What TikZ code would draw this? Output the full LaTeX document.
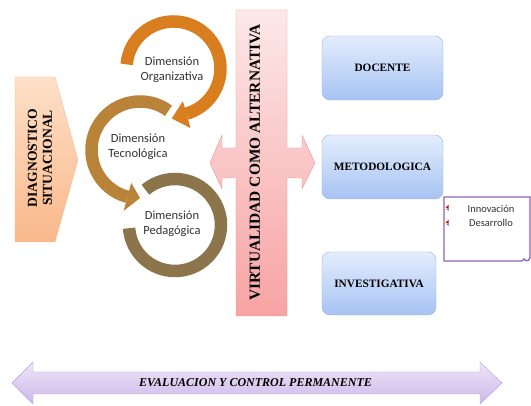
\documentclass[tikz,border=0pt]{standalone}
\usepackage{fontspec}
\setmainfont{Liberation Serif}
\newfontfamily\calfont{Carlito}
\usetikzlibrary{calc,shadings}
\definecolor{orgc}{RGB}{217,126,30}
\definecolor{tecc}{RGB}{186,131,58}
\definecolor{pedc}{RGB}{140,117,74}
\definecolor{peachtop}{RGB}{253,224,200}
\definecolor{peachbot}{RGB}{250,184,138}
\definecolor{peachline}{RGB}{244,190,150}
\definecolor{pinktop}{RGB}{253,232,232}
\definecolor{pinkbot}{RGB}{247,163,163}
\definecolor{pinkline}{RGB}{232,150,150}
\definecolor{boxtop}{RGB}{228,237,253}
\definecolor{boxbot}{RGB}{166,195,243}
\definecolor{boxline}{RGB}{150,180,230}
\definecolor{lavtop}{RGB}{238,229,248}
\definecolor{lavbot}{RGB}{204,184,232}
\definecolor{lavline}{RGB}{185,160,215}
\definecolor{calline}{RGB}{140,100,185}

\begin{document}
\begin{tikzpicture}[x=1pt, y=1pt, align=center,
    ring/.style={line width=12.5pt},
    dimtext/.style={font=\calfont\fontsize{12.5}{15.5}\selectfont, text=black!80},
    bluebox/.style={draw=boxline, rounded corners=8pt, top color=boxtop, bottom color=boxbot,
      minimum width=121pt, minimum height=64pt, font=\bfseries\fontsize{11.3}{13}\selectfont},
    vtext/.style={rotate=90, font=\bfseries\fontsize{#1}{15}\selectfont}]
  \useasboundingbox (0,0) rectangle (531,406);

  \draw[peachline, top color=peachtop, bottom color=peachbot]
    (15,329) -- (55,329) -- (78,246) -- (55,164) -- (15,164) -- cycle;
  \node[vtext=13.6] (DS) at (40,248) {DIAGNOSTICO\\SITUACIONAL};

  \draw[pinkline, top color=pinktop, bottom color=pinkbot]
    (236,396) -- (287,396) -- (287,258) -- (302,258) -- (302,271) -- (315,243) -- (302,217)
    -- (302,228) -- (287,228) -- (287,90) -- (236,90) -- (236,228) -- (222,228) -- (222,217)
    -- (210,243) -- (222,271) -- (222,258) -- (236,258) -- cycle;
  \node[vtext=15.4] (VA) at (255,243.5) {VIRTUALIDAD COMO ALTERNATIVA};

  \coordinate (c1) at (173.5,337.5);
  \coordinate (c2) at (140,256);
  \coordinate (c3) at (175,181);

  \draw[ring, pedc] (c3) ++(130:46) arc[start angle=130, end angle=-176, radius=46];
  \draw[ring, tecc] (c2) ++(54:48.5) arc[start angle=54, end angle=255, radius=48.5];
  \fill[tecc] ($(c2)+(255:34)$) -- ($(c2)+(255:63)$) -- ($(c2)+(270:48)$) -- cycle;
  \draw[ring, orgc] (c1) ++(175:47) arc[start angle=175, end angle=-74, radius=47];
  \fill[orgc] ($(c1)+(-74:34)$) -- ($(c1)+(-74:62)$) -- ($(c1)+(-92:50)$) -- cycle;

  \node[dimtext] (DO) at (172,336) {Dimensión\\Organizativa};
  \node[dimtext] (DT) at (138,259) {Dimensión\\Tecnológica};
  \node[dimtext] (DP) at (172,182) {Dimensión\\Pedagógica};

  \node[bluebox] (D) at (382.5,338) {DOCENTE};
  \node[bluebox] (M) at (382.5,239) {METODOLOGICA};
  \node[bluebox, minimum width=114pt, minimum height=63pt] (I) at (379,122.5) {INVESTIGATIVA};

  \draw[calline, line width=1.4pt, fill=white]
    (444,209) -- (530,209) -- (530,149) .. controls (530,145) and (526,144) .. (524,147)
    -- (522,145) -- (444,145) -- cycle;
  \foreach \y in {198,183} {
    \fill[red!80!black] (445.5,\y) -- (448.5,\y+3) -- (448.5,\y) -- cycle;
    \fill[yellow!80!orange] (445.5,\y) -- (448.5,\y) -- (447,\y-1.5) -- cycle;
    \fill[blue!70] (447,\y-1.5) -- (448.5,\y) -- (448.5,\y-3) -- cycle;
  }
  \node[font=\calfont\fontsize{10.5}{12}\selectfont, text=black!80] (IN) at (491,197) {Innovación};
  \node[font=\calfont\fontsize{10.5}{12}\selectfont, text=black!80] (DE) at (491,183) {Desarrollo};

  \draw[lavline, top color=lavtop, bottom color=lavbot]
    (12,23) -- (33,44) -- (33,34) -- (480,34) -- (480,44) -- (502,23) -- (480,2) -- (480,12)
    -- (33,12) -- (33,2) -- cycle;
  \node[font=\bfseries\itshape\fontsize{12}{14}\selectfont] (EV) at (255.5,23) {EVALUACION Y CONTROL PERMANENTE};
\end{tikzpicture}
\end{document}
